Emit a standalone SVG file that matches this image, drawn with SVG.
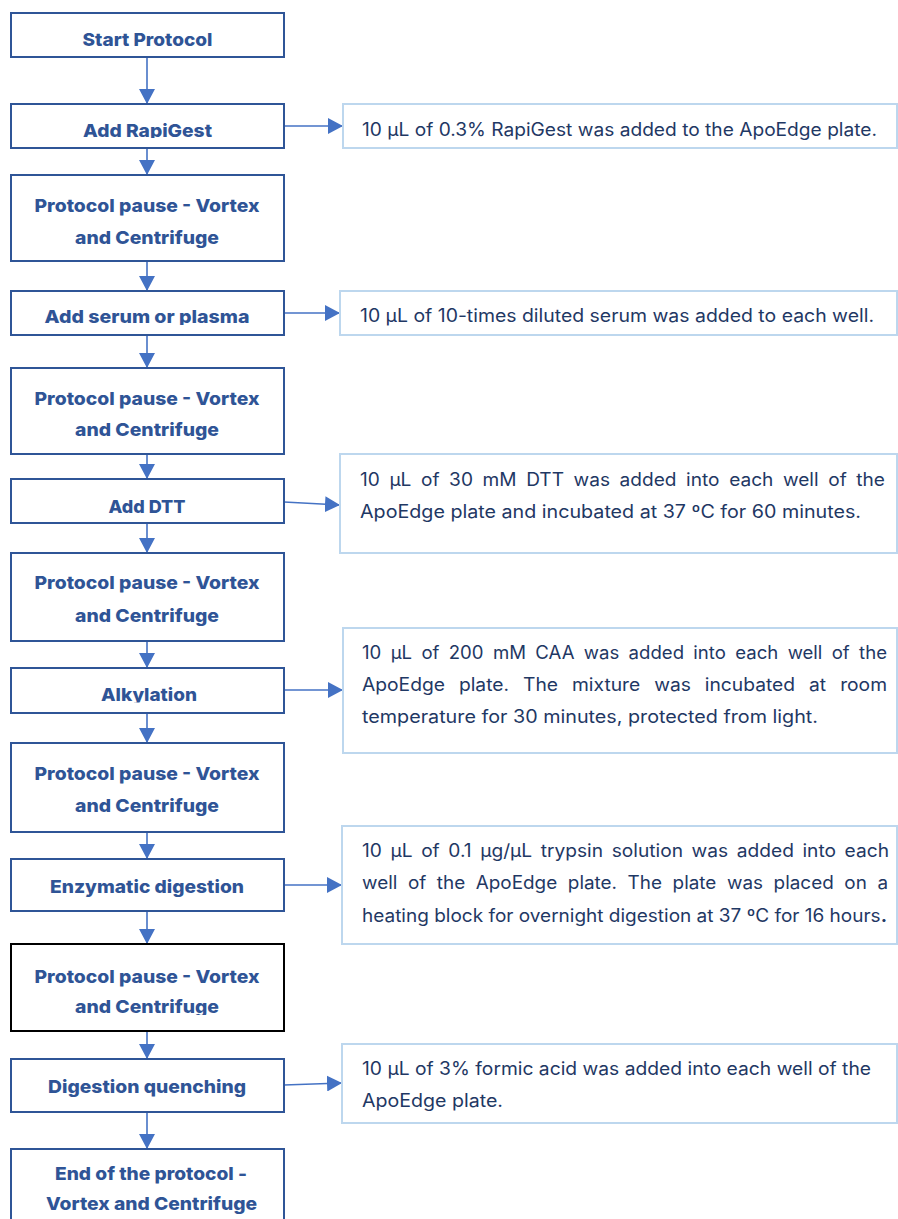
<svg xmlns="http://www.w3.org/2000/svg" width="898" height="1219" viewBox="0 0 898 1219">
<style>
.box{fill:#fff;stroke:#2F5597;stroke-width:2}
.boxk{fill:#fff;stroke:#000;stroke-width:2}
.note{fill:#fff;stroke:#BDD7EE;stroke-width:2}
.lbl{font-family:Inter,"Open Sans","Liberation Sans",sans-serif;font-weight:800;font-size:18px;fill:#2F5496;text-anchor:middle}
.txt{font-family:Inter,"Open Sans","Liberation Sans",sans-serif;font-weight:400;font-size:18px;fill:#1F3864}
.con{stroke:#4472C4;stroke-width:1.6;fill:none}
</style>
<defs>
<marker id="ah" markerUnits="userSpaceOnUse" markerWidth="16" markerHeight="16" refX="15" refY="8" orient="auto">
<path d="M0,0 L15,8 L0,16 z" fill="#4472C4"/>
</marker>
<clipPath id="c2"><rect x="0" y="104" width="290" height="34"/></clipPath>
<clipPath id="c4"><rect x="0" y="291" width="290" height="34"/></clipPath>
<clipPath id="c8"><rect x="0" y="668" width="290" height="34.5"/></clipPath>
<clipPath id="c11"><rect x="0" y="944" width="290" height="71"/></clipPath>
</defs>
<rect width="898" height="1219" fill="#fff"/>

<g id="connectors">
<line class="con" x1="147" y1="57" x2="147" y2="104" marker-end="url(#ah)"/>
<line class="con" x1="147" y1="148" x2="147" y2="175" marker-end="url(#ah)"/>
<line class="con" x1="147" y1="261" x2="147" y2="291" marker-end="url(#ah)"/>
<line class="con" x1="147" y1="335" x2="147" y2="368" marker-end="url(#ah)"/>
<line class="con" x1="147" y1="454" x2="147" y2="479" marker-end="url(#ah)"/>
<line class="con" x1="147" y1="523" x2="147" y2="553" marker-end="url(#ah)"/>
<line class="con" x1="147" y1="641" x2="147" y2="668" marker-end="url(#ah)"/>
<line class="con" x1="147" y1="713" x2="147" y2="743" marker-end="url(#ah)"/>
<line class="con" x1="147" y1="832" x2="147" y2="859" marker-end="url(#ah)"/>
<line class="con" x1="147" y1="911" x2="147" y2="944" marker-end="url(#ah)"/>
<line class="con" x1="147" y1="1031" x2="147" y2="1059" marker-end="url(#ah)"/>
<line class="con" x1="147" y1="1112" x2="147" y2="1149" marker-end="url(#ah)"/>
<line class="con" x1="284" y1="126" x2="343" y2="126" marker-end="url(#ah)"/>
<line class="con" x1="284" y1="313" x2="340" y2="313" marker-end="url(#ah)"/>
<line class="con" x1="284" y1="502" x2="340" y2="505" marker-end="url(#ah)"/>
<line class="con" x1="284" y1="690" x2="343" y2="690" marker-end="url(#ah)"/>
<line class="con" x1="284" y1="885" x2="342" y2="885" marker-end="url(#ah)"/>
<line class="con" x1="284" y1="1085" x2="342" y2="1083" marker-end="url(#ah)"/>
</g>

<g id="n1"><rect class="box" x="11" y="13" width="273" height="44"/><text class="lbl" x="147.5" y="46" textLength="130" lengthAdjust="spacingAndGlyphs">Start Protocol</text></g>
<g id="n2"><rect class="box" x="11" y="104" width="273" height="44"/><text class="lbl" x="147.5" y="137" textLength="129" lengthAdjust="spacingAndGlyphs" clip-path="url(#c2)">Add RapiGest</text></g>
<g id="n3"><rect class="box" x="11" y="175" width="273" height="86"/><text class="lbl" x="147" y="212" textLength="225" lengthAdjust="spacingAndGlyphs">Protocol pause - Vortex</text><text class="lbl" x="147" y="244" textLength="144" lengthAdjust="spacingAndGlyphs">and Centrifuge</text></g>
<g id="n4"><rect class="box" x="11" y="291" width="273" height="44"/><text class="lbl" x="147" y="323" textLength="205" lengthAdjust="spacingAndGlyphs" clip-path="url(#c4)">Add serum or plasma</text></g>
<g id="n5"><rect class="box" x="11" y="368" width="273" height="86"/><text class="lbl" x="147" y="405" textLength="225" lengthAdjust="spacingAndGlyphs">Protocol pause - Vortex</text><text class="lbl" x="147" y="436" textLength="144" lengthAdjust="spacingAndGlyphs">and Centrifuge</text></g>
<g id="n6"><rect class="box" x="11" y="479" width="273" height="44"/><text class="lbl" x="147" y="513" textLength="77" lengthAdjust="spacingAndGlyphs">Add DTT</text></g>
<g id="n7"><rect class="box" x="11" y="553" width="273" height="88"/><text class="lbl" x="147" y="589" textLength="225" lengthAdjust="spacingAndGlyphs">Protocol pause - Vortex</text><text class="lbl" x="147" y="622" textLength="144" lengthAdjust="spacingAndGlyphs">and Centrifuge</text></g>
<g id="n8"><rect class="box" x="11" y="668" width="273" height="45"/><text class="lbl" x="149" y="701" textLength="96" lengthAdjust="spacingAndGlyphs" clip-path="url(#c8)">Alkylation</text></g>
<g id="n9"><rect class="box" x="11" y="743" width="273" height="89"/><text class="lbl" x="147" y="780" textLength="225" lengthAdjust="spacingAndGlyphs">Protocol pause - Vortex</text><text class="lbl" x="147" y="812" textLength="144" lengthAdjust="spacingAndGlyphs">and Centrifuge</text></g>
<g id="n10"><rect class="box" x="11" y="859" width="273" height="52"/><text class="lbl" x="147" y="893" textLength="194" lengthAdjust="spacingAndGlyphs">Enzymatic digestion</text></g>
<g id="n11"><rect class="boxk" x="11" y="944" width="273" height="87"/><text class="lbl" x="147" y="983" textLength="225" lengthAdjust="spacingAndGlyphs">Protocol pause - Vortex</text><text class="lbl" x="147" y="1013" textLength="144" lengthAdjust="spacingAndGlyphs" clip-path="url(#c11)">and Centrifuge</text></g>
<g id="n12"><rect class="box" x="11" y="1059" width="273" height="53"/><text class="lbl" x="147" y="1093" textLength="198" lengthAdjust="spacingAndGlyphs">Digestion quenching</text></g>
<g id="n13"><rect class="box" x="11" y="1149" width="273" height="80"/><text class="lbl" x="151" y="1180" textLength="192" lengthAdjust="spacingAndGlyphs">End of the protocol -</text><text class="lbl" x="151.5" y="1210" textLength="211" lengthAdjust="spacingAndGlyphs">Vortex and Centrifuge</text></g>

<g id="r1"><rect class="note" x="343" y="104" width="554" height="44"/><text class="txt" x="362" y="136" textLength="515" lengthAdjust="spacingAndGlyphs">10 µL of 0.3% RapiGest was added to the ApoEdge plate.</text></g>
<g id="r2"><rect class="note" x="340" y="291" width="557" height="44"/><text class="txt" x="360" y="322" textLength="514" lengthAdjust="spacingAndGlyphs">10 µL of 10-times diluted serum was added to each well.</text></g>
<g id="r3"><rect class="note" x="340" y="454" width="557" height="99"/><text class="txt" x="360" y="486" textLength="525" lengthAdjust="spacingAndGlyphs" word-spacing="4">10 µL of 30 mM DTT was added into each well of the</text><text class="txt" x="360" y="518" textLength="501" lengthAdjust="spacingAndGlyphs">ApoEdge plate and incubated at 37 ºC for 60 minutes.</text></g>
<g id="r4"><rect class="note" x="343" y="628" width="554" height="125"/><text class="txt" x="362" y="659" textLength="525" lengthAdjust="spacingAndGlyphs" word-spacing="4">10 µL of 200 mM CAA was added into each well of the</text><text class="txt" x="362" y="691" textLength="525" lengthAdjust="spacingAndGlyphs" word-spacing="8">ApoEdge plate. The mixture was incubated at room</text><text class="txt" x="362" y="723" textLength="456" lengthAdjust="spacingAndGlyphs">temperature for 30 minutes, protected from light.</text></g>
<g id="r5"><rect class="note" x="342" y="826" width="555" height="118"/><text class="txt" x="362" y="857" textLength="527" lengthAdjust="spacingAndGlyphs" word-spacing="3">10 µL of 0.1 µg/µL trypsin solution was added into each</text><text class="txt" x="362" y="889" textLength="526" lengthAdjust="spacingAndGlyphs" word-spacing="5">well of the ApoEdge plate. The plate was placed on a</text><text class="txt" x="362" y="922" textLength="525" lengthAdjust="spacingAndGlyphs">heating block for overnight digestion at 37 ºC for 16 hours<tspan font-weight="700">.</tspan></text></g>
<g id="r6"><rect class="note" x="342" y="1044" width="555" height="79"/><text class="txt" x="362" y="1075" textLength="509" lengthAdjust="spacingAndGlyphs">10 µL of 3% formic acid was added into each well of the</text><text class="txt" x="362" y="1107" textLength="141" lengthAdjust="spacingAndGlyphs">ApoEdge plate.</text></g>
</svg>
